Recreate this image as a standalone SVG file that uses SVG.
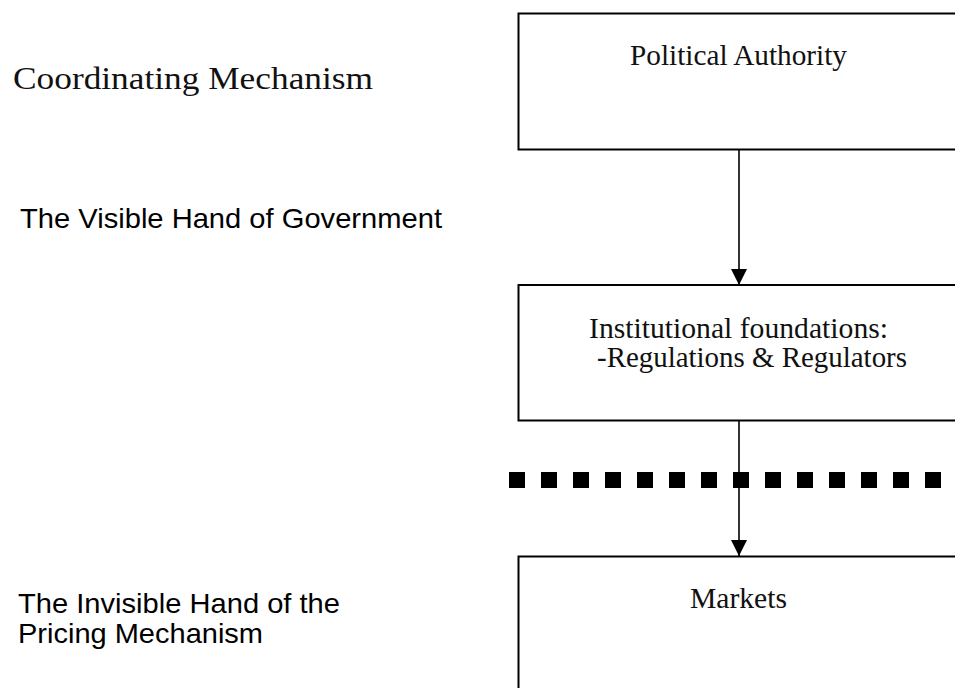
<svg xmlns="http://www.w3.org/2000/svg" width="955" height="688" viewBox="0 0 955 688">
<style>
.box{fill:#fff;stroke:#000;stroke-width:2}
.serif{font-family:"Liberation Serif","Times New Roman",serif;fill:#111}
.sans{font-family:"Liberation Sans",Arial,sans-serif;font-size:28px;fill:#000}
.conn{stroke:#000;stroke-width:1.6;fill:none}
</style>
<defs>
<marker id="arr" viewBox="0 0 16 16" refX="16" refY="8" markerWidth="16" markerHeight="16" markerUnits="userSpaceOnUse" orient="auto">
<path d="M0,0 L16,8 L0,16 Z" fill="#000"/>
</marker>
</defs>
<rect width="955" height="688" fill="#fff"/>
<g id="label-coordinating"><text class="serif" x="13" y="89" font-size="32" textLength="360" lengthAdjust="spacingAndGlyphs">Coordinating Mechanism</text></g>
<g id="label-visible"><text class="sans" x="20" y="228" textLength="422" lengthAdjust="spacingAndGlyphs">The Visible Hand of Government</text></g>
<g id="label-invisible"><text class="sans" x="18" y="613" textLength="322" lengthAdjust="spacingAndGlyphs">The Invisible Hand of the</text><text class="sans" x="18" y="643" textLength="245" lengthAdjust="spacingAndGlyphs">Pricing Mechanism</text></g>
<g id="node-political"><rect class="box" x="518.5" y="13.5" width="460" height="136"/><text class="serif" x="630" y="65" font-size="28.5" textLength="217" lengthAdjust="spacingAndGlyphs">Political Authority</text></g>
<g id="node-institutional"><rect class="box" x="518.5" y="285" width="460" height="135.5"/><text class="serif" x="589" y="338" font-size="28.5" textLength="299" lengthAdjust="spacingAndGlyphs">Institutional foundations:</text><text class="serif" x="597" y="367" font-size="28.5" textLength="310" lengthAdjust="spacingAndGlyphs">-Regulations &amp; Regulators</text></g>
<g id="node-markets"><rect class="box" x="518.5" y="556.5" width="460" height="160"/><text class="serif" x="690" y="608" font-size="28.5" textLength="97" lengthAdjust="spacingAndGlyphs">Markets</text></g>
<g id="connectors">
<line class="conn" x1="739" y1="150" x2="739" y2="285" marker-end="url(#arr)"/>
<line class="conn" x1="739" y1="421" x2="739" y2="556" marker-end="url(#arr)"/>
</g>
<g id="divider">
<line x1="509" y1="480" x2="941" y2="480" stroke="#000" stroke-width="16" stroke-dasharray="16 16"/>
</g>
</svg>
